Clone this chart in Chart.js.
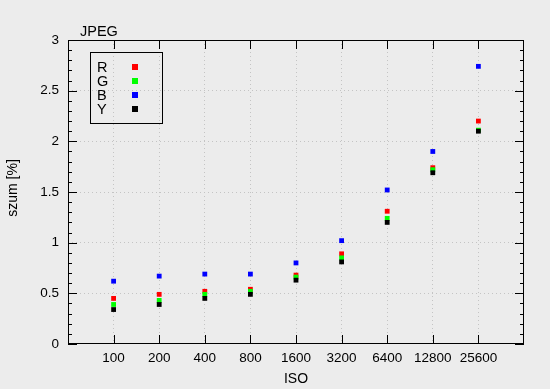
<!DOCTYPE html>
<html>
<head>
<meta charset="utf-8">
<script src="https://cdn.jsdelivr.net/npm/chart.js@4"></script>
<style>
    html, body { margin: 0; padding: 0; background: #ececec; }
    #wrap { width: 550px; height: 389px; }
</style>
</head>
<body>
<div id="wrap"><canvas id="noiseChart" width="550" height="389"></canvas></div>
<script>

// ISO categories (x = 1..9)
const isoLabels = ['100', '200', '400', '800', '1600', '3200', '6400', '12800', '25600'];

// noise [%] per channel
const noiseR = [0.45, 0.49, 0.52, 0.54, 0.68, 0.89, 1.31, 1.74, 2.20];
const noiseG = [0.39, 0.43, 0.49, 0.52, 0.66, 0.85, 1.24, 1.72, 2.11];
const noiseB = [0.62, 0.67, 0.69, 0.69, 0.80, 1.02, 1.52, 1.90, 2.74];
const noiseY = [0.34, 0.39, 0.45, 0.49, 0.63, 0.81, 1.20, 1.69, 2.10];

const seriesNames = ['R', 'G', 'B', 'Y'];
const seriesColors = ['#ff0000', '#00ff00', '#0000ff', '#000000'];

const yTicks = [0, 0.5, 1, 1.5, 2, 2.5, 3];

function toPoints(values) {
    return values.map((v, i) => ({ x: i + 1, y: v }));
}

const FONT = 'Liberation Sans, Arial, Helvetica, sans-serif';

// background + frame, inward ticks, legend box, titles
const gnuplotLook = {
    id: 'gnuplotLook',
    beforeDraw(chart) {
        const c = chart.ctx;
        c.save();
        c.fillStyle = '#ececec';
        c.fillRect(0, 0, chart.width, chart.height);
        c.restore();
    },
    afterDatasetsDraw(chart) {
        const c = chart.ctx;
        const a = chart.chartArea;
        const xs = chart.scales.x;
        const ys = chart.scales.y;

        c.save();
        c.strokeStyle = '#000';
        c.lineWidth = 1;

        // frame
        c.strokeRect(Math.round(a.left) + 0.5, Math.round(a.top) + 0.5,
            Math.round(a.right - a.left) - 1, Math.round(a.bottom - a.top) - 1);

        // y ticks (major 0.5, minor 0.1) on both sides
        c.beginPath();
        for (let i = 0; i <= 30; i++) {
            const y = Math.round(ys.getPixelForValue(i / 10)) + 0.5;
            const len = (i % 5 === 0) ? 9 : 4;
            c.moveTo(a.left, y); c.lineTo(a.left + len, y);
            c.moveTo(a.right, y); c.lineTo(a.right - len, y);
        }
        // x ticks bottom and top
        for (let i = 1; i <= isoLabels.length; i++) {
            const x = Math.round(xs.getPixelForValue(i)) + 0.5;
            c.moveTo(x, a.bottom); c.lineTo(x, a.bottom - 9);
            c.moveTo(x, a.top); c.lineTo(x, a.top + 9);
        }
        c.stroke();

        c.fillStyle = '#000';
        c.textBaseline = 'middle';

        // title
        c.font = '14.5px ' + FONT;
        c.textAlign = 'left';
        c.fillText('JPEG', 80, 32);

        // axis titles
        c.font = '14px ' + FONT;
        c.textAlign = 'center';
        c.fillText('ISO', (a.left + a.right) / 2, 379);
        c.save();
        c.translate(13, 188);
        c.rotate(-Math.PI / 2);
        c.fillText('szum [%]', 0, 0);
        c.restore();

        // legend
        c.strokeRect(90.5, 52.5, 72, 71);
        c.textAlign = 'left';
        c.font = '14.5px ' + FONT;
        seriesNames.forEach((name, i) => {
            const y = 67 + i * 14;
            c.fillStyle = '#000';
            c.fillText(name, 97, y + 1);
            c.fillStyle = seriesColors[i];
            c.fillRect(132, y - 3, 6, 6);
        });
        c.restore();
    }
};

const ctx = document.getElementById('noiseChart');

new Chart(ctx, {

    type: 'scatter',

    data: {
        datasets: seriesNames.map((name, i) => ({
            label: name,
            data: toPoints([noiseR, noiseG, noiseB, noiseY][i]),
            backgroundColor: seriesColors[i],
            borderColor: seriesColors[i],
            pointStyle: 'rect',
            pointRadius: 3.4,
            borderWidth: 0,
            order: 4 - i
        }))
    },

    options: {
        responsive: false,
        animation: false,
        devicePixelRatio: 1,
        layout: {
            padding: { top: 40, right: 26, left: 0, bottom: 0 }
        },
        plugins: {
            legend: { display: false },
            tooltip: { enabled: false }
        },
        scales: {
            x: {
                type: 'linear',
                min: 0,
                max: 10,
                afterFit: s => { s.height = 45; },
                afterBuildTicks: s => {
                    s.ticks = [0, 1, 2, 3, 4, 5, 6, 7, 8, 9, 10].map(v => ({ value: v }));
                },
                ticks: {
                    padding: 6,
                    color: '#000',
                    font: { family: FONT, size: 13.5 },
                    callback: v => isoLabels[v - 1] || ''
                },
                grid: {
                    drawTicks: false,
                    color: c => (c.tick && c.tick.value > 0 && c.tick.value < 10) ? '#c4c4c4' : 'rgba(0,0,0,0)'
                },
                border: { display: false, dash: [1, 3] }
            },
            y: {
                min: 0,
                max: 3,
                afterFit: s => { s.width = 68; },
                afterBuildTicks: s => {
                    s.ticks = yTicks.map(v => ({ value: v }));
                },
                ticks: {
                    padding: 9,
                    color: '#000',
                    font: { family: FONT, size: 13.5 },
                    callback: v => String(v)
                },
                grid: {
                    drawTicks: false,
                    color: c => (c.tick && c.tick.value > 0 && c.tick.value < 3) ? '#c4c4c4' : 'rgba(0,0,0,0)'
                },
                border: { display: false, dash: [1, 3] }
            }
        }
    },

    plugins: [gnuplotLook]

});

</script>
</body>
</html>
